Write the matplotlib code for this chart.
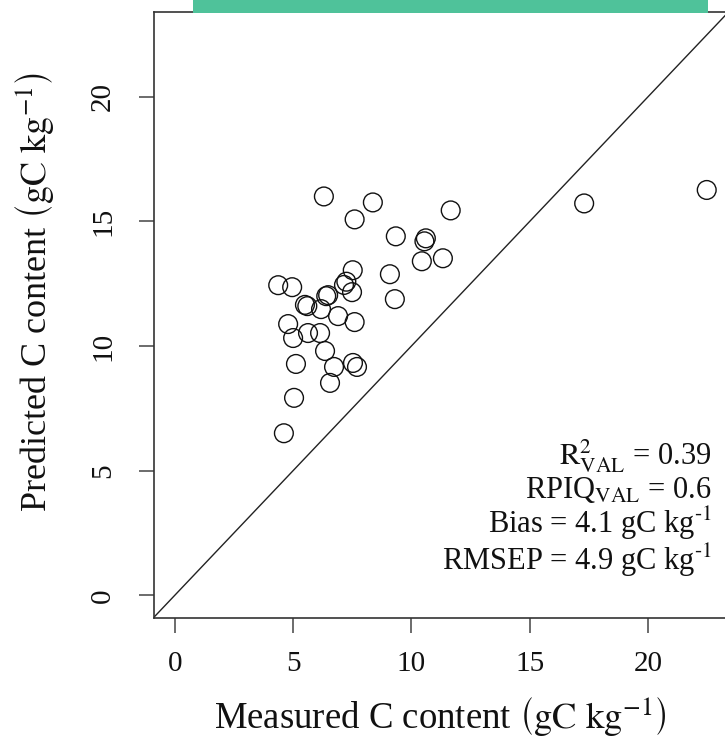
import matplotlib
matplotlib.use("Agg")
import matplotlib.pyplot as plt
from matplotlib.patches import Rectangle

# Measured vs predicted soil carbon (validation set)
measured = [4.37, 4.96, 6.30, 8.37, 7.60, 9.34, 10.61, 10.55, 11.66, 10.44,
            11.33, 9.09, 7.52, 9.30, 17.30, 22.48, 7.15, 7.25, 7.49, 6.40,
            6.48, 5.50, 5.60, 6.18, 6.90, 7.60, 4.79, 5.00, 5.63, 6.14,
            6.35, 5.12, 6.73, 7.53, 7.70, 6.56, 5.04, 4.61]
predicted = [12.44, 12.36, 16.00, 15.76, 15.08, 14.40, 14.32, 14.20, 15.44, 13.40,
             13.52, 12.88, 13.04, 11.88, 15.72, 16.26, 12.45, 12.58, 12.16, 12.00,
             12.04, 11.65, 11.60, 11.48, 11.20, 10.96, 10.88, 10.32, 10.52, 10.52,
             9.80, 9.28, 9.16, 9.32, 9.16, 8.52, 7.92, 6.50]
ticks = [0, 5, 10, 15, 20]
lim_data = (0, 22.5)

stats_lines = [
    r"$\mathrm{R}_{\mathrm{VAL}}^{2}$ = 0.39",
    r"RPIQ$_{\mathrm{VAL}}$ = 0.6",
    r"Bias = 4.1 gC kg$^{\text{-1}}$",
    r"RMSEP = 4.9 gC kg$^{\text{-1}}$",
]

plt.rcParams["font.family"] = ["Liberation Serif", "DejaVu Serif"]
plt.rcParams["mathtext.fontset"] = "stix"

W, H = 725, 738
fig = plt.figure(figsize=(W / 100, H / 100), dpi=100)

left, right, top, bottom = 153.5, 728.5, 12.0, 617.7
ax = fig.add_axes([left / W, 1 - bottom / H, (right - left) / W, (bottom - top) / H])

# R-style 4% range extension
span = lim_data[1] - lim_data[0]
lo, hi = lim_data[0] - 0.04 * span, lim_data[1] + 0.04 * span
ax.set_xlim(lo, hi)
ax.set_ylim(lo, hi)

ax.scatter(measured, predicted, s=13.5 ** 2, facecolors="none",
           edgecolors="#111111", linewidths=1.0, zorder=3)
ax.plot([lo, hi], [lo, hi], color="#222222", lw=1.0, zorder=2)

for sp in ax.spines.values():
    sp.set_color("#333333")
    sp.set_linewidth(1.2)

ax.set_xticks(ticks)
ax.set_yticks(ticks)
ax.tick_params(axis="both", length=11, width=1.1, color="#444444",
               labelsize=21, direction="out", labelcolor="#111111")
ax.tick_params(axis="x", pad=13)
ax.tick_params(axis="y", pad=16)
for lab in ax.get_yticklabels():
    lab.set_rotation(90)
    lab.set_va("center")
    lab.set_ha("right")

fig.text(440 / W, 1 - 716 / H, r"Measured C content $\left(\mathrm{gC\ kg}^{-1}\right)$",
         ha="center", va="center", fontsize=26.5, color="#111111")
fig.text(34 / W, 1 - 292 / H, r"Predicted C content $\left(\mathrm{gC\ kg}^{-1}\right)$",
         ha="center", va="center", fontsize=26, rotation=90, color="#111111")

# Validation statistics block, right-aligned in the lower right corner
fig.text(712 / W, 1 - 508 / H, "\n".join(stats_lines), ha="right", va="center",
         multialignment="right", fontsize=22, linespacing=1.0, color="#111111")

# Title banner strip across the top edge
fig.add_artist(Rectangle((193 / W, 1 - 13 / H), (708 - 193) / W, 13 / H,
                         transform=fig.transFigure, facecolor="#4FC29A",
                         edgecolor="none", zorder=10))

fig.savefig("out.png", dpi=100)
